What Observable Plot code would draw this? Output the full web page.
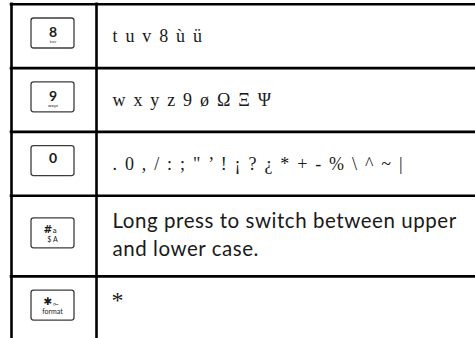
<!DOCTYPE html>
<html><head><meta charset="utf-8">
<script src="https://cdn.jsdelivr.net/npm/d3@7"></script>
<script src="https://cdn.jsdelivr.net/npm/@observablehq/plot@0.6"></script>
<style>
html,body{margin:0;padding:0;background:#fff;}
</style></head><body><div id="chart"></div>
<script>
// Keys (main glyph, small superscript glyph, small caption under it)
const keyMain = ["8", "9", "0", "#", "✱"];
const keySup  = ["", "", "", "a", "⟜"];
const keySub  = ["tuv", "wxyz", "", "$ A", "format"];
// Descriptions of each key
const descriptions = [
  "t u v 8 ù ü",
  "w x y z 9 ø Ω Ξ Ψ",
  ". 0 , / : ; \" ’ ! ¡ ? ¿ * + - % \\ ^ ~ |",
  "Long press to switch between upper\nand lower case.",
  "*"
];
const descKind = ["chars", "chars", "chars", "note", "symbol"];

// layout derived from content (lines per row)
const rows = [];
let rowTop = 3.8;
descriptions.forEach((desc, i) => {
  const lines = desc.split("\n").length;
  const h = 63.8 + 16.9 * (lines - 1);
  const c = rowTop + h / 2;
  rows.push({i, top: rowTop, h, c, lines, desc, kind: descKind[i],
    main: keyMain[i], sup: keySup[i], sub: keySub[i], bc: c - 2.7});
  rowTop += h;
});

const ink = "#1a1a1a";
const chart = Plot.plot({
  width: 475, height: 338, margin: 0,
  x: {type: "identity", axis: null}, y: {type: "identity", axis: null},
  style: {background: "#fff"},
  marks: [
    Plot.ruleY(rows, {y: "top", x1: 9.7, x2: 475, stroke: "#000", strokeWidth: 2.6}),
    Plot.ruleX([11, 96], {x: d => d, y1: 2.5, y2: 338, stroke: "#000", strokeWidth: 2.6}),
    Plot.rect(rows, {x1: 31, x2: 74, y1: d => d.bc - 15, y2: d => d.bc + 15, rx: 2.5,
      fill: "#fff", stroke: "#3c3c3c", strokeWidth: 1.3}),
    // digit keys
    Plot.text(rows.filter(d => !d.sup), {x: 52.5, y: d => d.bc + (d.sub ? 3.5 : 2), text: "main",
      fontFamily: "Lato", fontWeight: 700, fontSize: 14, lineAnchor: "bottom", fill: ink}),
    Plot.text(rows.filter(d => !d.sup && d.sub), {x: 52.5, y: d => d.bc + 9.5, text: "sub",
      fontFamily: "Lato", fontSize: 4.5, lineAnchor: "bottom", fill: ink}),
    // symbol keys
    Plot.text(rows.filter(d => d.sup), {x: 47.5, y: d => d.bc - 0.3, text: "main",
      fontFamily: "DejaVu Sans", fontWeight: 700, fontSize: 10.5, lineAnchor: "bottom", fill: ink}),
    Plot.text(rows.filter(d => d.sup), {x: 52, y: d => d.bc, text: "sup", textAnchor: "start",
      fontFamily: "DejaVu Sans", fontSize: 7, lineAnchor: "bottom", fill: ink}),
    Plot.text(rows.filter(d => d.sup), {x: 52, y: d => d.bc + 8.3, text: "sub",
      fontFamily: "Lato", fontSize: 7, lineAnchor: "bottom", fill: ink}),
    // descriptions
    Plot.text(rows.filter(d => d.kind === "chars"), {x: 112, y: d => d.c + 5.8, text: "desc",
      textAnchor: "start", lineAnchor: "bottom", fontFamily: "Liberation Serif", fontSize: 18,
      fill: ink}),
    Plot.text(rows.filter(d => d.kind === "note"), {x: 112, y: d => d.c + 5.8 + (d.lines - 1) * 14,
      text: "desc", textAnchor: "start", lineAnchor: "bottom", fontFamily: "Lato", fontSize: 20.5,
      lineHeight: 28 / 20.5, fill: ink}),
    Plot.text(rows.filter(d => d.kind === "symbol"), {x: 111, y: d => d.c, text: "desc",
      textAnchor: "start", lineAnchor: "bottom", fontFamily: "Liberation Serif", fontSize: 24, fill: ink})
  ]
});
// spacing of the glyph lists and the note, as in the printed manual
d3.select(chart).selectAll('g[font-size="18"] text').style("letter-spacing", "1.7px");
d3.select(chart).selectAll('g[font-size="20.5"] text').style("letter-spacing", "0.55px");
document.getElementById("chart").append(chart);
</script></body></html>
